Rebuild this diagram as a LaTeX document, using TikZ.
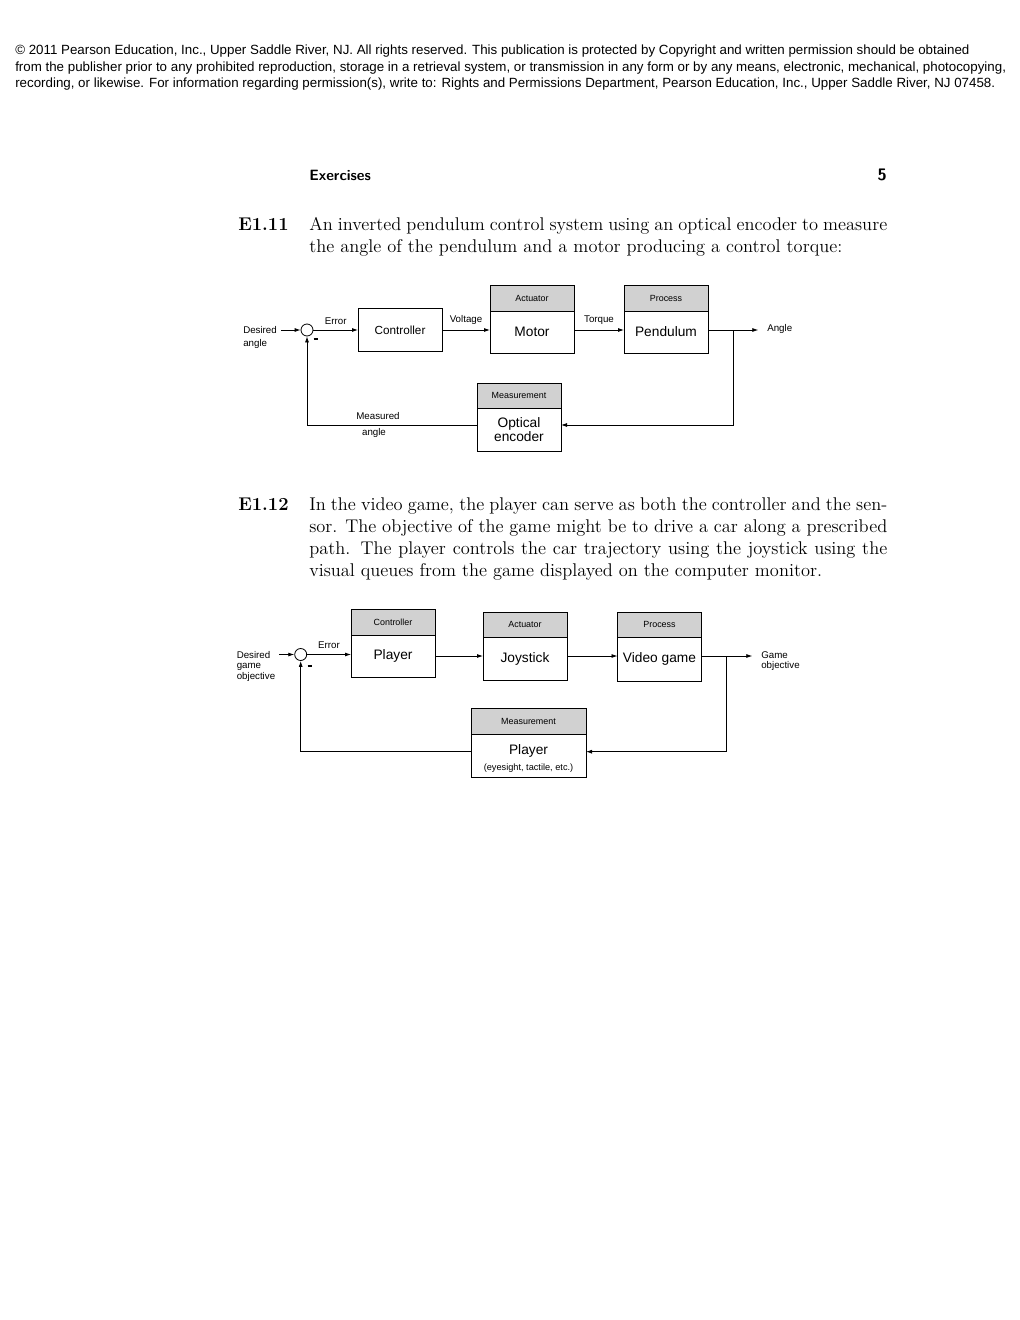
\documentclass[tikz,border=0pt]{standalone}
\usepackage{fontspec}
\newfontfamily\arial{Liberation Sans}
\usetikzlibrary{arrows.meta,positioning}

\newcommand{\blkfont}{\arial\fontsize{10.3}{10.5}\selectfont}
\newcommand{\hdrfont}{\arial\fontsize{6.7}{8}\selectfont}
\newcommand{\lblfont}{\arial\fontsize{7.3}{7.6}\selectfont}

\begin{document}
\begin{tikzpicture}[
  x=0.75pt, y=-0.75pt, >={Latex[length=4.5pt,width=3pt]},
  every node/.style={inner sep=0pt},
  blk/.style={draw,line width=0.6pt,outer sep=0pt,minimum width=63pt,minimum height=31.5pt,font=\blkfont,align=center},
  hdr/.style={draw,line width=0.6pt,outer sep=0pt,fill=black!18,minimum width=63pt,minimum height=19.5pt,font=\hdrfont},
  lbl/.style={font=\lblfont,align=left},
  sumpt/.style={draw,circle,line width=0.6pt,minimum size=9pt},
  sig/.style={->,line width=0.6pt}]
\useasboundingbox[fill=white] (0,0) rectangle (1020,1320);

% page text
\node[anchor=base west,align=left,font=\arial\fontsize{10}{12.4}\selectfont] (legal) at (15,88)
  {\textcopyright{} 2011 Pearson Education, Inc., Upper Saddle River, NJ. All rights reserved. This publication is protected by Copyright and written permission should be obtained\\
   from the publisher prior to any prohibited reproduction, storage in a retrieval system, or transmission in any form or by any means, electronic, mechanical, photocopying,\\
   recording, or likewise. For information regarding permission(s), write to: Rights and Permissions Department, Pearson Education, Inc., Upper Saddle River, NJ 07458.};
\node[anchor=base west,font=\sffamily\bfseries\fontsize{11.2}{12}\selectfont] (runhead) at (309,180) {Exercises};
\node[anchor=base east,font=\sffamily\bfseries\fontsize{12.5}{14}\selectfont] (pageno) at (887,180) {5};

\node[anchor=base west,font=\bfseries\fontsize{13.8}{16.5}\selectfont] (ex11) at (238,230) {E1.11};
\node[anchor=base west,text width=433.5pt,align=justify,font=\fontsize{13.8}{16.5}\selectfont] (txt11) at (309,230)
  {An inverted pendulum control system using an optical encoder to measure\linebreak
   the angle of the pendulum and a motor producing a control torque:};

\node[anchor=base west,font=\bfseries\fontsize{13.8}{16.5}\selectfont] (ex12) at (238,510) {E1.12};
\node[anchor=base west,text width=433.5pt,align=justify,font=\fontsize{13.8}{16.5}\selectfont] (txt12) at (309,510)
  {In the video game, the player can serve as both the controller and the sen-\linebreak
   sor. The objective of the game might be to drive a car along a prescribed\linebreak
   path. The player controls the car trajectory using the joystick using the\linebreak
   visual queues from the game displayed on the computer monitor.};

% E1.11: inverted pendulum loop
\node[sumpt] (sum1) at (307,330) {};
\node (minus1) at (316,339) {\rule{3.7pt}{1.4pt}};
\node[blk,minimum height=32.25pt,font=\arial\fontsize{8.8}{10}\selectfont] (ctrl) at (400,330) {Controller};
\node[blk] (motor) at (532,332) {Motor};
\node[hdr,above=0pt of motor] (motorhd) {Actuator};
\node[blk] (pend) at (666,332) {Pendulum};
\node[hdr,above=0pt of pend] (pendhd) {Process};
\node[blk,minimum height=32.25pt] (enc) at (519,429.5) {Optical\\encoder};
\node[hdr,minimum height=18.75pt,above=0pt of enc] (enchd) {Measurement};
\node[lbl,anchor=north west,font=\arial\fontsize{7.3}{9.75}\selectfont] (des1) at (243,326) {Desired\\angle};
\node[lbl,anchor=west] (ang1) at (767,329) {Angle};
\node[lbl] (meas1) at (378,416) {Measured};
\node[lbl] (meas1b) at (374,433) {angle};
\coordinate (br1) at (733,330);
\coordinate (fb1) at (733,425);

\draw[sig] ([xshift=3pt]des1.east |- sum1.west) -- (sum1.west);
\draw[sig] (sum1.east) -- node[lbl,above=4pt]{Error} (ctrl.west |- sum1.east);
\draw[sig] (ctrl.east) -- node[lbl,above=4pt]{Voltage} (ctrl.east -| motor.west);
\draw[sig] (motor.east |- ctrl.east) -- node[lbl,above=4pt]{Torque} (ctrl.east -| pend.west);
\draw[sig] (pend.east |- ctrl.east) -- ([xshift=-6.5pt]ang1.west |- ctrl.east);
\draw[sig] (br1) -- (fb1) -- (fb1 -| enc.east);
\draw[sig] (fb1 -| enc.west) -| (sum1.south);

% E1.12: video game loop
\node[sumpt] (sum2) at (300.7,654.5) {};
\node (minus2) at (310,666) {\rule{3.7pt}{1.4pt}};
\node[blk] (plyc) at (393,656) {Player};
\node[hdr,above=0pt of plyc] (plychd) {Controller};
\node[blk,minimum height=32.25pt] (joy) at (525,658.5) {Joystick};
\node[hdr,minimum height=18.75pt,above=0pt of joy] (joyhd) {Actuator};
\node[blk,minimum height=33pt] (game) at (659.5,659) {Video game};
\node[hdr,minimum height=18.75pt,above=0pt of game] (gamehd) {Process};
\node[blk,minimum width=86.25pt,minimum height=32.25pt] (plym) at (528.5,755.5)
  {\rule{0pt}{12pt}Player\\[1pt]{\arial\fontsize{6.9}{8}\selectfont(eyesight, tactile, etc.)}};
\node[hdr,minimum width=86.25pt,above=0pt of plym] (plymhd) {Measurement};
\node[lbl,anchor=north west] (des2) at (236.5,651.5) {Desired\\game\\objective};
\node[lbl,anchor=north west] (gobj) at (761,651.5) {Game\\objective};
\coordinate (br2) at (726.7,656);
\coordinate (fb2) at (726.7,751.7);

\draw[sig] ([xshift=3pt]des2.east |- sum2.west) -- (sum2.west);
\draw[sig] (sum2.east) -- node[lbl,above=4pt]{Error} (plyc.west |- sum2.east);
\draw[sig] (plyc.east) -- (plyc.east -| joy.west);
\draw[sig] (joy.east |- plyc.east) -- (plyc.east -| game.west);
\draw[sig] (game.east |- plyc.east) -- ([xshift=-6.5pt]gobj.west |- plyc.east);
\draw[sig] (br2) -- (fb2) -- (fb2 -| plym.east);
\draw[sig] (fb2 -| plym.west) -| (sum2.south);
\end{tikzpicture}
\end{document}
